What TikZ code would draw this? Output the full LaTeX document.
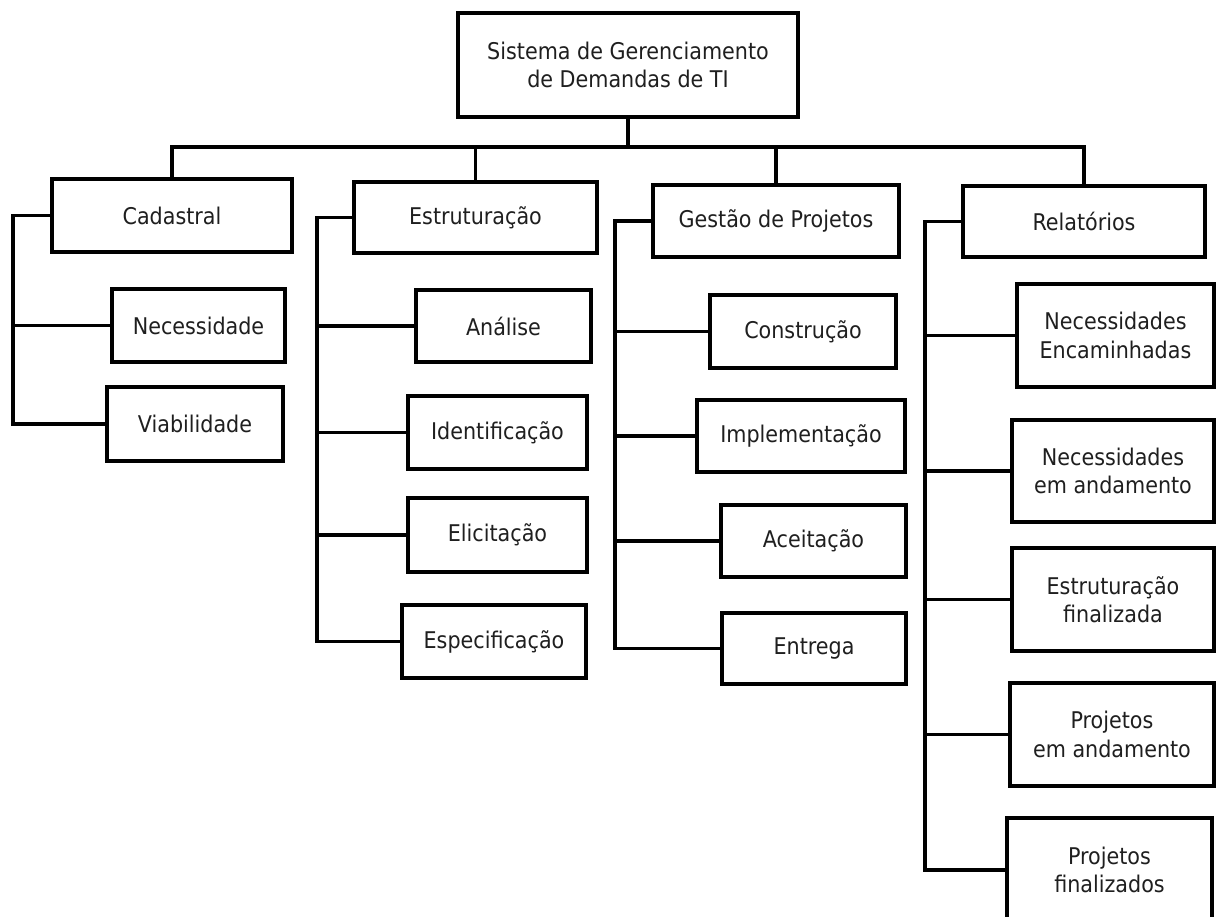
\documentclass[tikz,border=0pt]{standalone}
\usepackage{fontspec}
\setmainfont{DejaVu Sans Condensed}
\begin{document}
\begin{tikzpicture}[x=1pt,y=-1pt,
  box/.style={draw=black, line width=3.7pt, fill=white, rectangle, inner sep=0pt,
    align=center, text=black!88, font=\fontsize{23}{28.5}\selectfont},
  link/.style={draw=black, line width=3.7pt}]
\useasboundingbox (0,0) rectangle (1216,917);
\clip (0,0) rectangle (1216,917);
\fill[white] (0,0) rectangle (1216,917);

% root
\node[box, minimum width=340pt, minimum height=104pt] (root) at (628,65)
  {Sistema de Gerenciamento\\de Demandas de TI};

% first level
\node[box, minimum width=240pt, minimum height=73pt] (cad) at (172,215.5) {Cadastral};
\node[box, minimum width=243pt, minimum height=71pt] (est) at (475.5,217.5) {Estruturação};
\node[box, minimum width=246pt, minimum height=72pt] (ges) at (776,221) {Gestão de Projetos};
\node[box, minimum width=242pt, minimum height=71pt] (rel) at (1084,221.5) {Relatórios};

% Cadastral
\node[box, minimum width=173pt, minimum height=73pt] (nec) at (198.5,325.5) {Necessidade};
\node[box, minimum width=176pt, minimum height=74pt] (via) at (195,424) {Viabilidade};

% Estruturação
\node[box, minimum width=175pt, minimum height=72pt] (ana) at (503.5,326) {Análise};
\node[box, minimum width=179pt, minimum height=73pt] (ide) at (497.5,432.5) {Identificação};
\node[box, minimum width=179pt, minimum height=74pt] (eli) at (497.5,535) {Elicitação};
\node[box, minimum width=184pt, minimum height=73pt] (esp) at (494,641.5) {Especificação};

% Gestão de Projetos
\node[box, minimum width=186pt, minimum height=73pt] (con) at (803,331.5) {Construção};
\node[box, minimum width=208pt, minimum height=72pt] (imp) at (801,436) {Implementação};
\node[box, minimum width=185pt, minimum height=72pt] (ace) at (813.5,541) {Aceitação};
\node[box, minimum width=184pt, minimum height=71pt] (ent) at (814,648.5) {Entrega};

% Relatórios
\node[box, minimum width=197pt, minimum height=103pt] (nen) at (1115.5,335.5) {Necessidades\\Encaminhadas};
\node[box, minimum width=202pt, minimum height=102pt] (nan) at (1113,471) {Necessidades\\em andamento};
\node[box, minimum width=202pt, minimum height=103pt] (efi) at (1113,599.5) {Estruturação\\finalizada};
\node[box, minimum width=204pt, minimum height=103pt] (pan) at (1112,734.5) {Projetos\\em andamento};
\node[box, minimum width=205pt, minimum height=104pt] (pfi) at (1109.5,870) {Projetos\\finalizados};

% bus under the root
\coordinate (bus) at (628,147);
\draw[link] (root.south) -- (root.south |- bus);
\draw[link] (cad.north) -- (cad.north |- bus) -- (rel.north |- bus) -- (rel.north);
\draw[link] (est.north) -- (est.north |- bus);
\draw[link] (ges.north) -- (ges.north |- bus);

% spines
\coordinate (sc) at (13,0);
\coordinate (se) at (317,0);
\coordinate (sg) at (615,0);
\coordinate (sr) at (925,0);

\draw[link] (cad.west) -- (cad.west -| sc) -- (via.west -| sc) -- (via.west);
\draw[link] (nec.west) -- (nec.west -| sc);

\draw[link] (est.west) -- (est.west -| se) -- (esp.west -| se) -- (esp.west);
\draw[link] (ana.west) -- (ana.west -| se);
\draw[link] (ide.west) -- (ide.west -| se);
\draw[link] (eli.west) -- (eli.west -| se);

\draw[link] (ges.west) -- (ges.west -| sg) -- (ent.west -| sg) -- (ent.west);
\draw[link] (con.west) -- (con.west -| sg);
\draw[link] (imp.west) -- (imp.west -| sg);
\draw[link] (ace.west) -- (ace.west -| sg);

\draw[link] (rel.west) -- (rel.west -| sr) -- (pfi.west -| sr) -- (pfi.west);
\draw[link] (nen.west) -- (nen.west -| sr);
\draw[link] (nan.west) -- (nan.west -| sr);
\draw[link] (efi.west) -- (efi.west -| sr);
\draw[link] (pan.west) -- (pan.west -| sr);
\end{tikzpicture}
\end{document}
